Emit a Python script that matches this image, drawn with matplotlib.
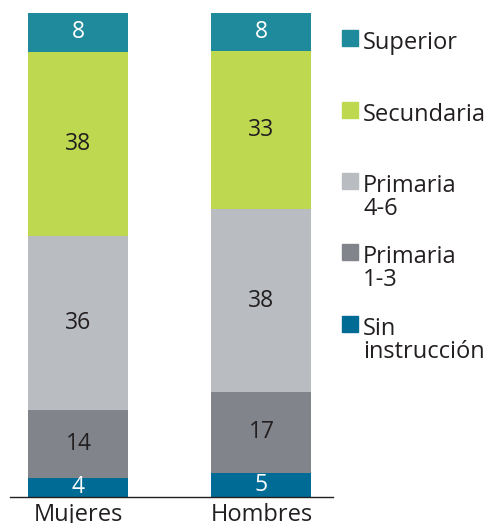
import numpy as np
import matplotlib.pyplot as plt
from matplotlib.patches import Rectangle

plt.rcParams['font.family'] = ['Open Sans', 'DejaVu Sans']

# datos (%)
grupos = ['Mujeres', 'Hombres']
niveles = ['Sin\ninstrucción', 'Primaria\n1-3', 'Primaria\n4-6', 'Secundaria', 'Superior']
valores = {
    'Sin\ninstrucción': [4, 5],
    'Primaria\n1-3': [14, 17],
    'Primaria\n4-6': [36, 38],
    'Secundaria': [38, 33],
    'Superior': [8, 8],
}
colores = ['#006b94', '#81848b', '#b9bcc0', '#bed850', '#1f8a9b']
texto_col = ['white', '#231f20', '#231f20', '#231f20', 'white']

# los redondeos no suman 100 en hombres: se dibuja la proporcion
tabla = np.array([valores[n] for n in niveles], dtype=float)
alturas = tabla / tabla.sum(axis=0) * 100

W, H = 489, 523
fig = plt.figure(figsize=(W / 100, H / 100), dpi=100)
ax = fig.add_axes([10 / W, (H - 497) / H, (333 - 10) / W, (497 - 13) / H])

x = np.arange(len(grupos))
base = np.zeros(len(grupos))
for i, niv in enumerate(niveles):
    h = alturas[i]
    ax.bar(x, h, bottom=base, width=0.546, color=colores[i])
    for j in range(len(grupos)):
        ax.text(x[j], base[j] + h[j] / 2, str(valores[niv][j]), ha='center', va='center',
                fontsize=16.5, color=texto_col[i])
    base += h

ax.set_xlim(-0.374, 1.391)
ax.set_ylim(0, 100)
for s in ['top', 'right', 'left']:
    ax.spines[s].set_visible(False)
ax.spines['bottom'].set_color('#231f20')
ax.spines['bottom'].set_linewidth(1.0)
ax.set_yticks([])
ax.set_xticks(x)
ax.set_xticklabels(grupos, fontsize=17, color='#231f20')
ax.tick_params(axis='x', length=0, pad=4)

# leyenda a mano
tops = [30, 102, 173, 244, 316]
for niv, col, t in zip(niveles[::-1], colores[::-1], tops):
    fig.add_artist(Rectangle((342 / W, (H - t - 16) / H), 16 / W, 16 / H,
                             transform=fig.transFigure, color=col))
    fig.text(363 / W, (H - t - 1) / H, niv, ha='left', va='top', fontsize=17,
             color='#231f20', linespacing=0.92)

fig.savefig('out.png', dpi=100)
